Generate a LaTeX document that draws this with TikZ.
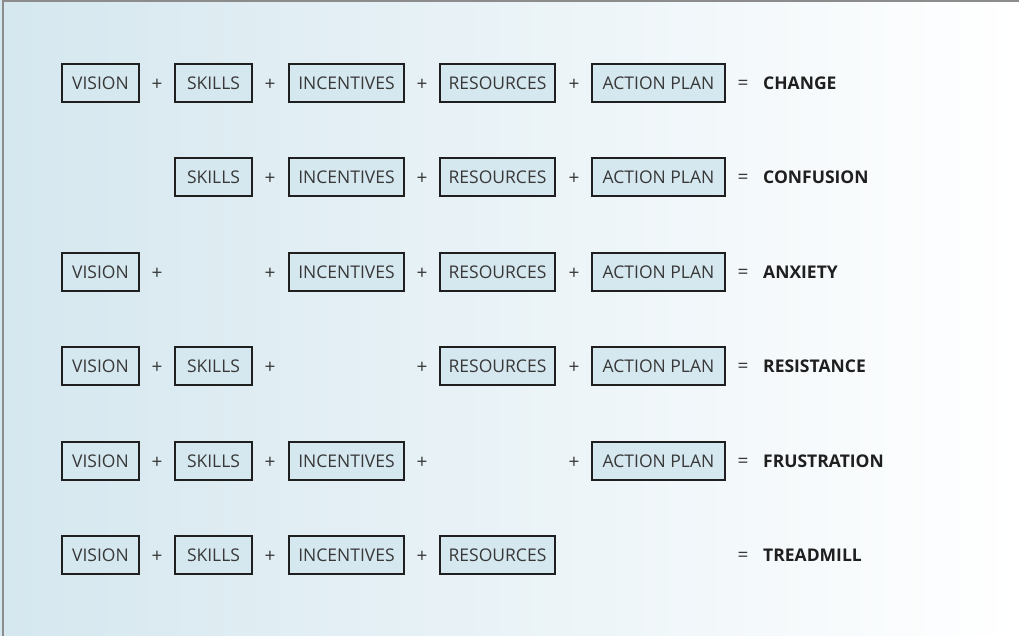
\documentclass[tikz,border=0pt]{standalone}
\usepackage{fontspec}
\setmainfont{Open Sans}
\begin{document}
\begin{tikzpicture}[x=1pt,y=-1pt,
  bx/.style={draw=black!88,line width=1.8pt,fill=boxblue,minimum height=38pt,inner sep=0pt,text=black!78,font=\fontsize{17.5}{17.5}\selectfont},
  op/.style={text=black!78,font=\fontsize{19}{19}\selectfont,inner sep=0pt,yshift=-2pt},
  res/.style={anchor=west,text=black!88,font=\fontsize{17.5}{17.5}\selectfont\bfseries,inner sep=0pt}]
\definecolor{boxblue}{HTML}{D5E7EF}
\definecolor{bgl}{HTML}{D5E7EF}
\useasboundingbox (0,0) rectangle (1019,636);
\shade[left color=bgl,right color=white] (0,0) rectangle (1019,636);
\draw[gray!90,line width=2pt] (3,636) -- (3,1) -- (1019,1);
% row 1
\node[bx,minimum width=77pt] (v1) at (100.5,83) {VISION};
\node[op] (p11) at (157,83) {+};
\node[bx,minimum width=77pt] (s1) at (213.5,83) {SKILLS};
\node[op] (p12) at (270,83) {+};
\node[bx,minimum width=115pt] (i1) at (346.5,83) {INCENTIVES};
\node[op] (p13) at (422,83) {+};
\node[bx,minimum width=115pt] (r1) at (497.5,83) {RESOURCES};
\node[op] (p14) at (574,83) {+};
\node[bx,minimum width=133pt] (a1) at (658.5,83) {ACTION PLAN};
\node[op] (e1) at (743,83) {=};
\node[res] (t1) at (763,83) {CHANGE};
% row 2
\node[bx,minimum width=77pt] (s2) at (213.5,177) {SKILLS};
\node[op] (p22) at (270,177) {+};
\node[bx,minimum width=115pt] (i2) at (346.5,177) {INCENTIVES};
\node[op] (p23) at (422,177) {+};
\node[bx,minimum width=115pt] (r2) at (497.5,177) {RESOURCES};
\node[op] (p24) at (574,177) {+};
\node[bx,minimum width=133pt] (a2) at (658.5,177) {ACTION PLAN};
\node[op] (e2) at (743,177) {=};
\node[res] (t2) at (763,177) {CONFUSION};
% row 3
\node[bx,minimum width=77pt] (v3) at (100.5,272) {VISION};
\node[op] (p31) at (157,272) {+};
\node[op] (p32) at (270,272) {+};
\node[bx,minimum width=115pt] (i3) at (346.5,272) {INCENTIVES};
\node[op] (p33) at (422,272) {+};
\node[bx,minimum width=115pt] (r3) at (497.5,272) {RESOURCES};
\node[op] (p34) at (574,272) {+};
\node[bx,minimum width=133pt] (a3) at (658.5,272) {ACTION PLAN};
\node[op] (e3) at (743,272) {=};
\node[res] (t3) at (763,272) {ANXIETY};
% row 4
\node[bx,minimum width=77pt] (v4) at (100.5,366) {VISION};
\node[op] (p41) at (157,366) {+};
\node[bx,minimum width=77pt] (s4) at (213.5,366) {SKILLS};
\node[op] (p42) at (270,366) {+};
\node[op] (p43) at (422,366) {+};
\node[bx,minimum width=115pt] (r4) at (497.5,366) {RESOURCES};
\node[op] (p44) at (574,366) {+};
\node[bx,minimum width=133pt] (a4) at (658.5,366) {ACTION PLAN};
\node[op] (e4) at (743,366) {=};
\node[res] (t4) at (763,366) {RESISTANCE};
% row 5
\node[bx,minimum width=77pt] (v5) at (100.5,461) {VISION};
\node[op] (p51) at (157,461) {+};
\node[bx,minimum width=77pt] (s5) at (213.5,461) {SKILLS};
\node[op] (p52) at (270,461) {+};
\node[bx,minimum width=115pt] (i5) at (346.5,461) {INCENTIVES};
\node[op] (p53) at (422,461) {+};
\node[op] (p54) at (574,461) {+};
\node[bx,minimum width=133pt] (a5) at (658.5,461) {ACTION PLAN};
\node[op] (e5) at (743,461) {=};
\node[res] (t5) at (763,461) {FRUSTRATION};
% row 6
\node[bx,minimum width=77pt] (v6) at (100.5,555) {VISION};
\node[op] (p61) at (157,555) {+};
\node[bx,minimum width=77pt] (s6) at (213.5,555) {SKILLS};
\node[op] (p62) at (270,555) {+};
\node[bx,minimum width=115pt] (i6) at (346.5,555) {INCENTIVES};
\node[op] (p63) at (422,555) {+};
\node[bx,minimum width=115pt] (r6) at (497.5,555) {RESOURCES};
\node[op] (e6) at (743,555) {=};
\node[res] (t6) at (763,555) {TREADMILL};
\end{tikzpicture}
\end{document}
